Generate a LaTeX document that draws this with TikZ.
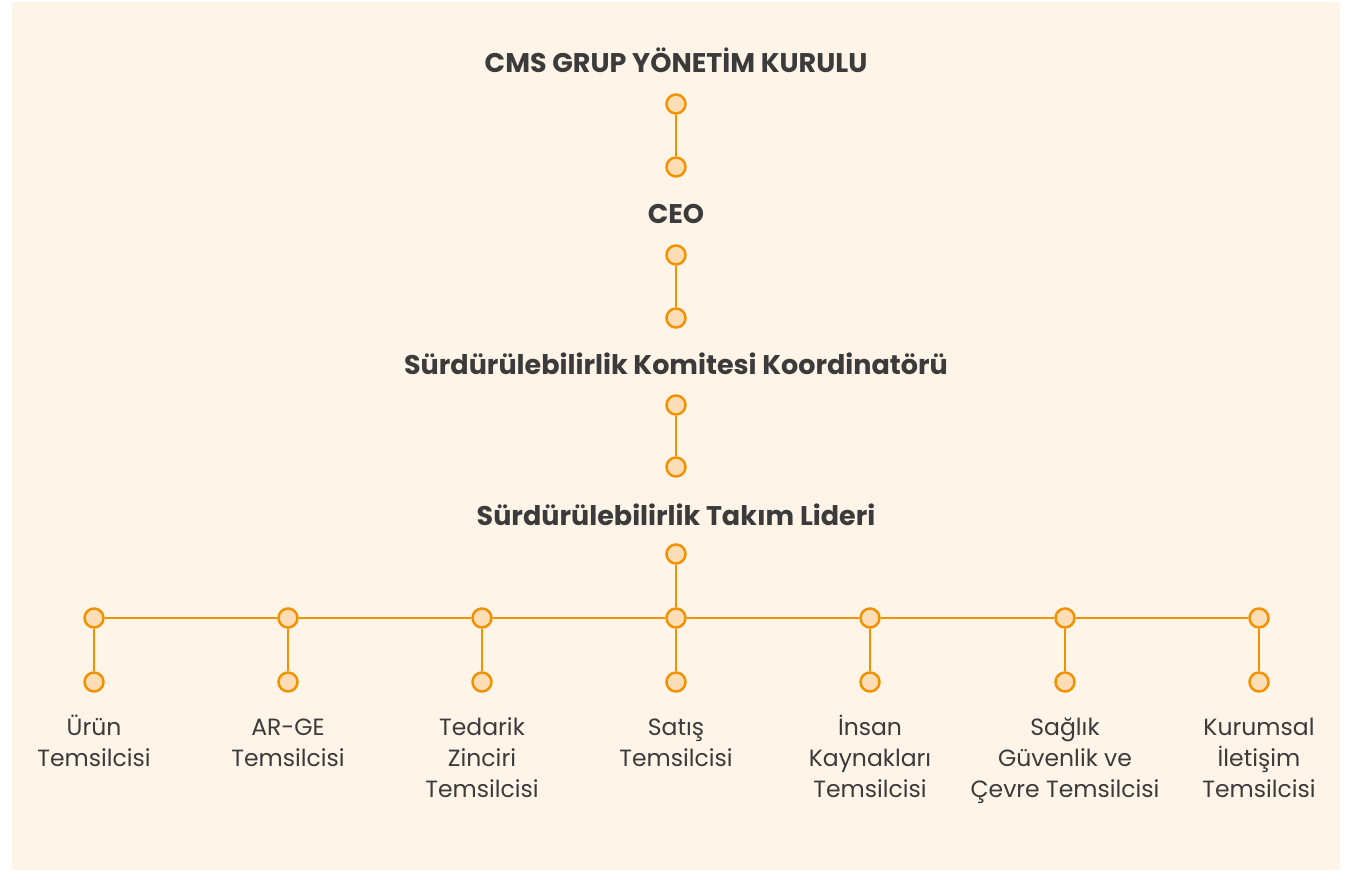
\documentclass[tikz,border=0pt]{standalone}
\usepackage{fontspec}
\setmainfont{Poppins}
\usepackage{xcolor}
\usepackage{tikz}

\definecolor{cream}{HTML}{FFF4E8}
\definecolor{ink}{HTML}{3B3B3B}
\definecolor{amber}{HTML}{F39200}
\definecolor{peach}{HTML}{FDDDB6}
\newcommand{\toprow}{\rule{0pt}{25pt}}

\begin{document}
\begin{tikzpicture}[x=1pt,y=-1pt,
  dot/.style={circle,draw=amber,fill=peach,line width=2.5pt,inner sep=0pt,minimum size=19pt},
  head/.style={text=ink,font=\fontsize{27}{32}\selectfont\bfseries,anchor=base},
  rep/.style={text=ink,font=\fontsize{23.5}{31}\selectfont,align=center,anchor=north,inner sep=0pt},
  every edge/.style={draw=amber,line width=2.5pt}]
\useasboundingbox (0,0) rectangle (1350,872);
\fill[cream] (12,2) rectangle (1340,870);
%
\node[head] (board) at (676,73) {CMS GRUP YÖNETİM KURULU};
\node[dot] (a1) at (676,104) {};
\node[dot] (a2) at (676,167) {};
\node[head] (ceo) at (676,223) {CEO};
\node[dot] (b1) at (676,255) {};
\node[dot] (b2) at (676,318) {};
\node[head] (coord) at (676,374) {Sürdürülebilirlik Komitesi Koordinatörü};
\node[dot] (c1) at (676,405) {};
\node[dot] (c2) at (676,467) {};
\node[head] (lead) at (676,525) {Sürdürülebilirlik Takım Lideri};
\node[dot] (d1) at (676,554) {};
%
\node[dot] (t1) at (94,618) {};
\node[dot] (t2) at (288,618) {};
\node[dot] (t3) at (482,618) {};
\node[dot] (t4) at (676,618) {};
\node[dot] (t5) at (870,618) {};
\node[dot] (t6) at (1065,618) {};
\node[dot] (t7) at (1259,618) {};
%
\node[dot] (s1) at (94,682) {};
\node[dot] (s2) at (288,682) {};
\node[dot] (s3) at (482,682) {};
\node[dot] (s4) at (676,682) {};
\node[dot] (s5) at (870,682) {};
\node[dot] (s6) at (1065,682) {};
\node[dot] (s7) at (1259,682) {};
%
\node[rep] (r1) at (94,710) {\toprow Ürün\\Temsilcisi};
\node[rep] (r2) at (288,710) {\toprow AR-GE\\Temsilcisi};
\node[rep] (r3) at (482,710) {\toprow Tedarik\\Zinciri\\Temsilcisi};
\node[rep] (r4) at (676,710) {\toprow Satış\\Temsilcisi};
\node[rep] (r5) at (870,710) {\toprow İnsan\\Kaynakları\\Temsilcisi};
\node[rep] (r6) at (1065,710) {\toprow Sağlık\\Güvenlik ve\\Çevre Temsilcisi};
\node[rep] (r7) at (1259,710) {\toprow Kurumsal\\İletişim\\Temsilcisi};
%
\draw (a1) edge (a2);
\draw (b1) edge (b2);
\draw (c1) edge (c2);
\draw (d1) edge (t4);
\draw (t1) edge (t2);
\draw (t2) edge (t3);
\draw (t3) edge (t4);
\draw (t4) edge (t5);
\draw (t5) edge (t6);
\draw (t6) edge (t7);
\draw (t1) edge (s1);
\draw (t2) edge (s2);
\draw (t3) edge (s3);
\draw (t4) edge (s4);
\draw (t5) edge (s5);
\draw (t6) edge (s6);
\draw (t7) edge (s7);
%
\end{tikzpicture}
\end{document}
